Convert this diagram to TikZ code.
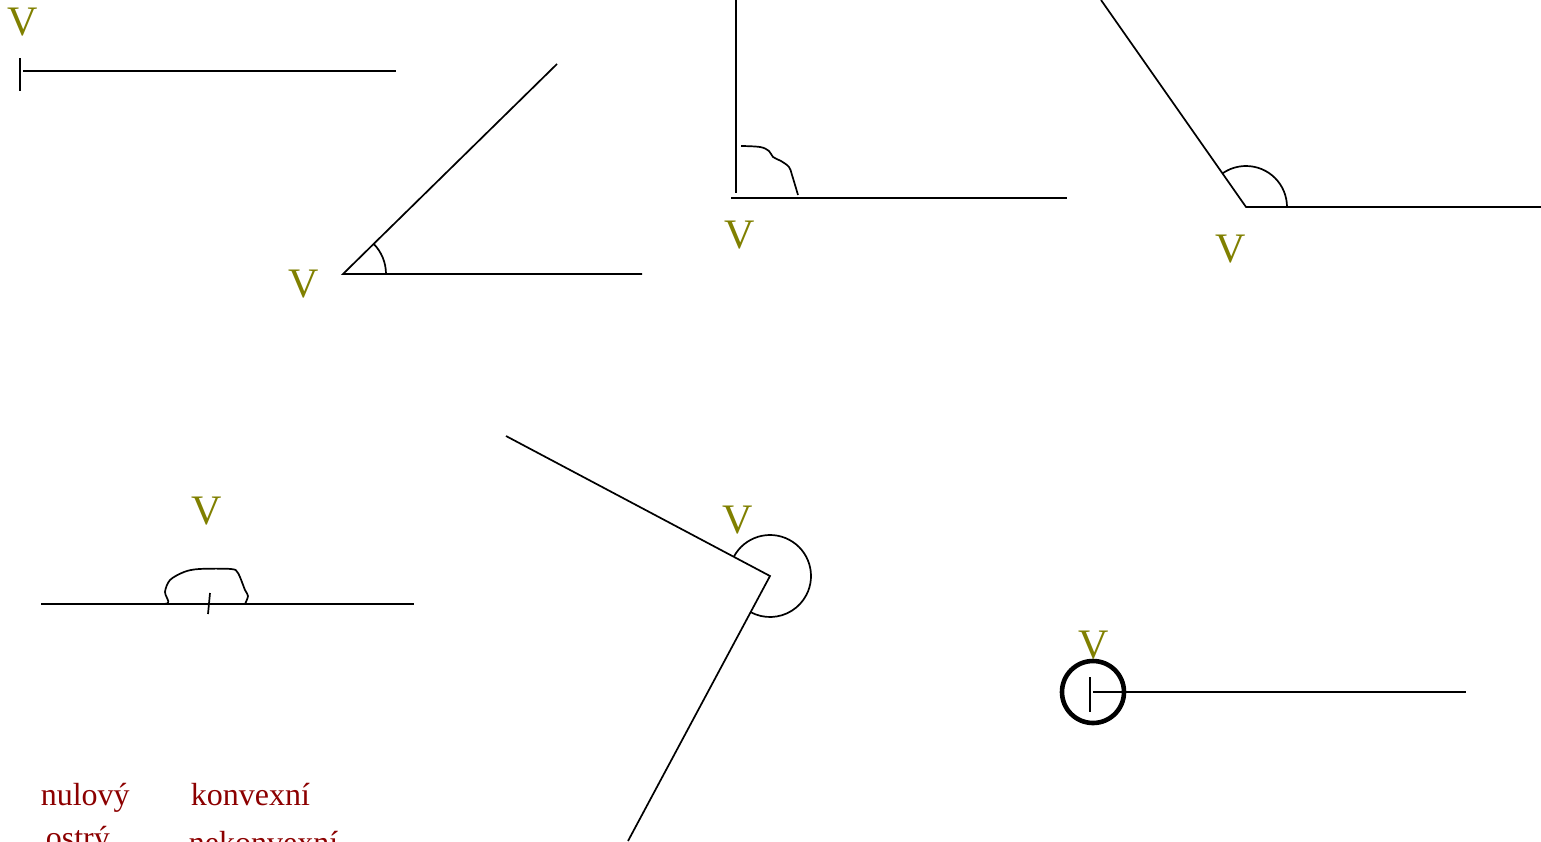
\documentclass[tikz,border=0pt]{standalone}
\usepackage{fontspec}
\setmainfont{Liberation Serif}
\usetikzlibrary{positioning}
\definecolor{vrchol}{RGB}{128,128,0}
\definecolor{nazev}{RGB}{140,0,0}

\begin{document}
\begin{tikzpicture}
[x=0.5pt,y=0.5pt,line width=0.85pt,%
  vlabel/.style={text=vrchol,font=\fontsize{21}{21}\selectfont,inner sep=0pt},%
  sname/.style={text=nazev,font=\fontsize{16}{16}\selectfont,inner sep=0pt,anchor=base west},%
  bod/.style={line width=2.3pt}]
\useasboundingbox (0,0) rectangle (1541,-841);

% nulovy uhel
\coordinate (n0) at (20,-71);
\draw (20,-58) -- (20,-91);
\draw (23,-71) -- (396,-71);
\node[vlabel] (vA) at (23,-22) {V};

% ostry uhel
\coordinate (o0) at (343,-274);
\draw (557,-64) -- (o0) -- (642,-274);
\draw (o0) ++(0:21.5pt) arc[start angle=0,end angle=44.5,radius=21.5pt];
\node[vlabel] (vB) at (304,-284) {V};

% pravy uhel
\draw (736,0) -- (736,-193);
\draw (731,-198) -- (1067,-198);
\draw plot[smooth,tension=0.6] coordinates {(741,-146) (760,-147) (769,-151)
  (773,-157) (781,-161) (789,-167) (792,-175) (798,-195)};
\node[vlabel] (vC) at (740,-235) {V};

% tupy uhel
\coordinate (t0) at (1246,-207);
\draw (1101,0) -- (t0) -- (1541,-207);
\draw (t0) ++(0:20.5pt) arc[start angle=0,end angle=125,radius=20.5pt];
\node[vlabel] (vD) at (1231,-249) {V};

% primy uhel
\draw (41,-604) -- (414,-604);
\draw (210,-593) -- (208,-614);
\draw plot[smooth,tension=0.5] coordinates {(152,-604) (168,-603) (165,-592)
  (170,-580) (184,-572) (199,-569) (231,-569) (238,-573) (245,-590) (248,-596) (245,-604)};
\node[vlabel] (vE) at (207,-511) {V};

% nekonvexni uhel
\coordinate (k0) at (770,-576);
\draw (506,-436) -- (k0) -- (628,-841);
\draw (k0) ++(152.1:20.5pt) arc[start angle=152.1,end angle=-118.2,radius=20.5pt];
\node[vlabel] (vF) at (738,-520) {V};

% plny uhel
\coordinate (p0) at (1093,-692);
\draw[bod] (p0) circle[radius=15.5pt];
\draw (p0) -- (1466,-692);
\draw (1090,-677) -- (1090,-712);
\node[vlabel] (vG) at (1094,-645) {V};

% nazvy
\node[sname] (nul) at (40,-805) {nulový};
\node[sname] (kon) at (190,-805) {konvexní};
\node[sname] (ost) at (45,-848) {ostrý};
\node[sname] (nek) at (188,-853) {nekonvexní};
\end{tikzpicture}
\end{document}
